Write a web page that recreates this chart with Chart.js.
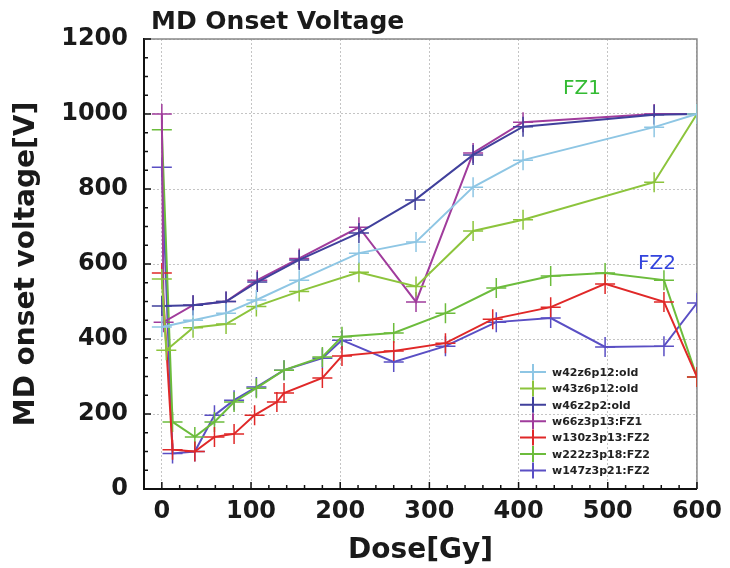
<!DOCTYPE html>
<html>
<head>
<meta charset="utf-8">
<script src="https://cdn.jsdelivr.net/npm/chart.js@4.4.1/dist/chart.umd.min.js"></script>
<style>
html, body { margin: 0; padding: 0; background: #fff; }
#wrap { width: 730px; height: 568px; }
</style>
</head>
<body>
<div id="wrap"><canvas id="mdChart" width="730" height="568"></canvas></div>
<script>

// series names (legend order)
const seriesNames = [
    "w42z6p12:old",
    "w43z6p12:old",
    "w46z2p2:old",
    "w66z3p13:FZ1",
    "w130z3p13:FZ2",
    "w222z3p18:FZ2",
    "w147z3p21:FZ2"
];

const seriesColors = ["#8ec6e4", "#8cc43c", "#40409c", "#a03c9c", "#e02828", "#6cbc3c", "#5a4fc4"];

// dose [Gy] and onset voltage [V] per sample
const w42Dose = [0, 35, 72, 106, 154, 221, 285, 349, 405, 552, 600];
const w42Volt = [432, 450, 469, 504, 557, 629, 659, 805, 877, 965, 1000];

const w43Dose = [0, 5, 35, 72, 106, 154, 221, 285, 349, 405, 552, 600];
const w43Volt = [560, 370, 430, 440, 487, 527, 578, 540, 688, 718, 818, 1000];

const w46Dose = [0, 35, 72, 107, 154, 221, 284, 349, 405, 552, 600];
const w46Volt = [488, 490, 500, 552, 611, 683, 771, 891, 966, 998, 1000];

const w66Dose = [0, 2, 35, 72, 107, 154, 221, 285, 349, 405, 552, 600];
const w66Volt = [1000, 445, 490, 500, 557, 615, 698, 499, 896, 978, 1000, 1000];

const w130Dose = [0, 12, 37, 59, 81, 104, 129, 137, 180, 202, 260, 318, 371, 436, 497, 563, 600];
const w130Volt = [576, 105, 100, 139, 147, 197, 232, 256, 296, 355, 368, 389, 453, 485, 547, 499, 299];

const w222Dose = [0, 12, 37, 59, 81, 106, 137, 180, 202, 260, 318, 375, 436, 497, 563, 600];
const w222Volt = [958, 179, 139, 179, 232, 269, 317, 352, 406, 416, 469, 536, 568, 576, 557, 299];

const w147Dose = [0, 12, 37, 59, 81, 106, 137, 180, 202, 260, 318, 375, 436, 497, 563, 600];
const w147Volt = [858, 95, 100, 197, 237, 272, 317, 349, 397, 339, 381, 445, 456, 379, 381, 496];

const xTicks = [0, 100, 200, 300, 400, 500, 600];
const yTicks = [0, 200, 400, 600, 800, 1000, 1200];

const allDose = [w42Dose, w43Dose, w46Dose, w66Dose, w130Dose, w222Dose, w147Dose];
const allVolt = [w42Volt, w43Volt, w46Volt, w66Volt, w130Volt, w222Volt, w147Volt];

function toPoints(dose, volt){
    return dose.map((d, i) => ({ x: d, y: volt[i] }));
}

const datasets = seriesNames.map((name, i) => ({
    label: name,
    data: toPoints(allDose[i], allVolt[i]),
    borderColor: seriesColors[i],
    backgroundColor: seriesColors[i],
    borderWidth: 2,
    pointStyle: "cross",
    pointRadius: 10,
    pointBorderWidth: 1.5,
    pointBorderColor: seriesColors[i],
    tension: 0,
    fill: false
}));

// ticks inside the frame, grey top/right frame, title, notes, legend
const decorPlugin = {
    id: "decor",
    beforeDatasetsDraw(chart){
        const ctx = chart.ctx;
        const a = chart.chartArea;
        const xs = chart.scales.x;
        const ys = chart.scales.y;

        ctx.save();
        ctx.strokeStyle = "#888";
        ctx.lineWidth = 1.5;
        ctx.beginPath();
        ctx.moveTo(a.left, a.top);
        ctx.lineTo(a.right, a.top);
        ctx.lineTo(a.right, a.bottom);
        ctx.stroke();

        ctx.strokeStyle = "#111";
        ctx.lineWidth = 1.5;
        ctx.beginPath();
        for(let v = 0; v <= 600; v += 20){
            const px = xs.getPixelForValue(v);
            const len = v % 100 === 0 ? 7 : 4;
            ctx.moveTo(px, a.bottom);
            ctx.lineTo(px, a.bottom - len);
        }
        for(let v = 0; v <= 1200; v += 50){
            const py = ys.getPixelForValue(v);
            const len = v % 200 === 0 ? 7 : 4;
            ctx.moveTo(a.left, py);
            ctx.lineTo(a.left + len, py);
        }
        ctx.stroke();
        ctx.restore();
    },
    afterDraw(chart){
        const ctx = chart.ctx;
        ctx.save();

        ctx.fillStyle = "#1a1a1a";
        ctx.font = "bold 25px 'DejaVu Sans'";
        ctx.textAlign = "left";
        ctx.textBaseline = "alphabetic";
        ctx.fillText("MD Onset Voltage", 151, 29);

        ctx.font = "20px 'DejaVu Sans'";
        ctx.fillStyle = "#33bb33";
        ctx.fillText("FZ1", 563, 94);
        ctx.fillStyle = "#3344dd";
        ctx.fillText("FZ2", 638, 269);

        // legend
        ctx.font = "bold 11px 'DejaVu Sans'";
        ctx.textBaseline = "middle";
        chart.data.datasets.forEach((ds, i) => {
            const y = 372 + i * 16.4;
            ctx.strokeStyle = ds.borderColor;
            ctx.lineWidth = 2;
            ctx.beginPath();
            ctx.moveTo(520, y);
            ctx.lineTo(546, y);
            ctx.moveTo(533, y - 8);
            ctx.lineTo(533, y + 8);
            ctx.stroke();
            ctx.fillStyle = "#222";
            ctx.fillText(ds.label, 552, y + 1);
        });

        ctx.restore();
    }
};

function createMdChart(){

    const ctx = document
        .getElementById("mdChart")
        .getContext("2d");

    return new Chart(ctx, {

        type: "line",

        data: { datasets: datasets },

        options: {

            responsive: false,
            animation: false,

            layout: {
                padding: { top: 39, right: 30, bottom: 0, left: 0 }
            },

            plugins: {
                legend: { display: false },
                title: { display: false },
                tooltip: { enabled: false }
            },

            scales: {

                x: {
                    type: "linear",
                    min: -20,
                    max: 600,
                    afterBuildTicks: scale => {
                        scale.ticks = xTicks.map(v => ({ value: v }));
                    },
                    afterFit: scale => { scale.height = 79; },
                    grid: {
                        color: "#c4c4c4",
                        lineWidth: 1,
                        drawTicks: false
                    },
                    border: { display: true, color: "#111", width: 2, dash: [2, 2] },
                    ticks: {
                        color: "#1a1a1a",
                        font: { family: "DejaVu Sans", size: 24, weight: "bold" },
                        padding: 8,
                        maxRotation: 0,
                        callback: v => String(v)
                    },
                    title: {
                        display: true,
                        text: "Dose[Gy]",
                        color: "#1a1a1a",
                        font: { family: "DejaVu Sans", size: 28, weight: "bold" },
                        padding: { top: 6, bottom: 0 }
                    }
                },

                y: {
                    min: 0,
                    max: 1200,
                    afterBuildTicks: scale => {
                        scale.ticks = yTicks.map(v => ({ value: v }));
                    },
                    afterFit: scale => { scale.width = 144; },
                    grid: {
                        color: "#c4c4c4",
                        lineWidth: 1,
                        drawTicks: false
                    },
                    border: { display: true, color: "#111", width: 2, dash: [2, 2] },
                    ticks: {
                        color: "#1a1a1a",
                        font: { family: "DejaVu Sans", size: 24, weight: "bold" },
                        padding: 16,
                        callback: v => String(v)
                    },
                    title: {
                        display: true,
                        text: "MD onset voltage[V]",
                        color: "#1a1a1a",
                        font: { family: "DejaVu Sans", size: 28, weight: "bold" },
                        padding: { top: 10, bottom: 0 }
                    }
                }

            }

        },

        plugins: [decorPlugin]

    });

}

const mdChart = createMdChart();

</script>
</body>
</html>
